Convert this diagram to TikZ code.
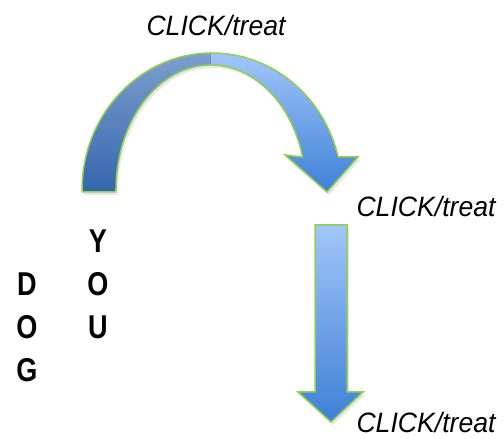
\documentclass[tikz,border=0pt]{standalone}
\usepackage{fontspec}
\setmainfont{Liberation Sans}
\newfontfamily\labelfont[FakeStretch=0.95]{Liberation Sans}
\newfontfamily\letterfont[FakeStretch=0.82]{Liberation Sans}
\usepackage{tikz}
\usetikzlibrary{shadows}

\definecolor{rim}{RGB}{146,208,80}
\definecolor{darkblue}{RGB}{52,102,172}
\definecolor{midblue}{RGB}{126,158,207}
\definecolor{paleblue}{RGB}{162,198,250}
\definecolor{deepblue}{RGB}{62,128,214}

\tikzset{
	clicklabel/.style={font=\labelfont\itshape\fontsize{28}{30}\selectfont, inner sep=0pt},
	letter/.style={font=\letterfont\bfseries\fontsize{33}{35}\selectfont, inner sep=0pt},
	bigarrow/.style={draw=rim, line width=1.5pt, line join=miter},
	soft/.style={drop shadow={opacity=0.18, shadow xshift=2pt, shadow yshift=-3pt}}
}

\begin{document}
\begin{tikzpicture}[x=1pt,y=1pt]
	\useasboundingbox (0,0) rectangle (504,439);

	% curved arrow, left half
	\fill[soft, top color=midblue, bottom color=darkblue]
		(82,247) -- (82,249) arc[start angle=180, end angle=90, x radius=130, y radius=137]
		-- (211,374) arc[start angle=90, end angle=180, x radius=95, y radius=125]
		-- (115,247) -- cycle;
	% curved arrow, right half with head
	\fill[soft, top color=paleblue, bottom color=deepblue]
		(211,386) arc[start angle=90, end angle=13.94, x radius=130, y radius=137]
		-- (358,282) -- (327,247) -- (285,284) -- (302.6,282)
		arc[start angle=15.3, end angle=90, x radius=95, y radius=125] -- cycle;
	% outline of whole curve
	\draw[bigarrow]
		(82,247) -- (82,249) arc[start angle=180, end angle=13.94, x radius=130, y radius=137]
		-- (358,282) -- (327,247) -- (285,284) -- (302.6,282)
		arc[start angle=15.3, end angle=180, x radius=95, y radius=125]
		-- (115,247) -- cycle;

	% straight arrow
	\draw[bigarrow, soft, top color=paleblue, bottom color=deepblue]
		(315,214) -- (347,214) -- (347,47) -- (363,47) -- (331,17)
		-- (298,47) -- (315,47) -- cycle;

	% labels
	\node[clicklabel] (top) at (216,414) {CLICK/treat};
	\node[clicklabel] (mid) at (426,233) {CLICK/treat};
	\node[clicklabel] (bot) at (426,17) {CLICK/treat};

	% letters
	\node[letter] (y1) at (98,198) {Y};
	\node[letter] (o1) at (98,155) {O};
	\node[letter] (u1) at (98,112) {U};
	\node[letter] (d2) at (27,155) {D};
	\node[letter] (o2) at (27,112) {O};
	\node[letter] (g2) at (27,69) {G};
\end{tikzpicture}
\end{document}
